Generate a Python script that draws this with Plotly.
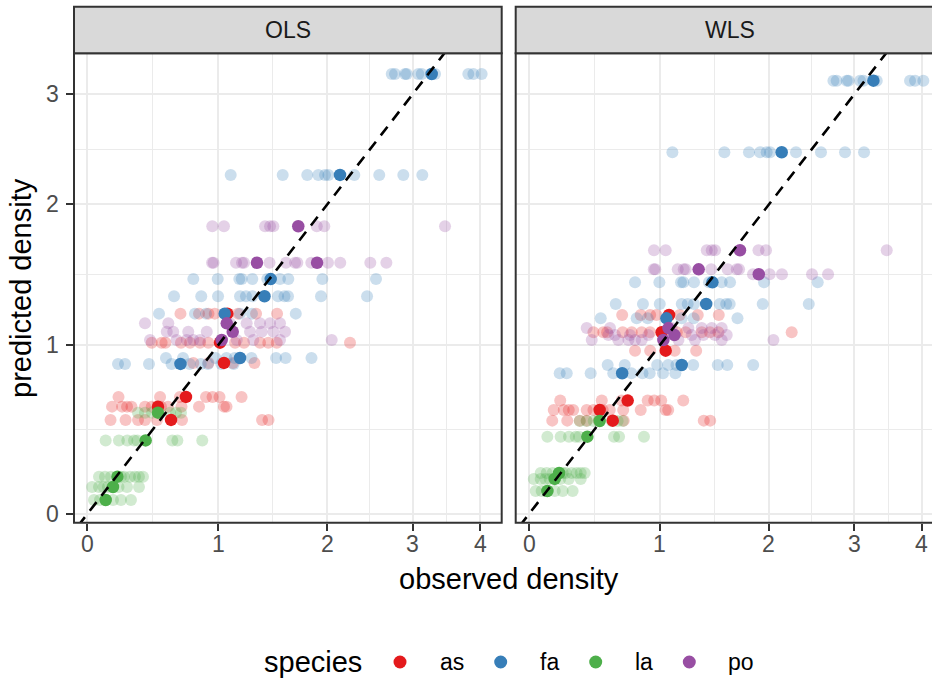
import numpy as np
import plotly.graph_objects as go

W, H = 932, 681

# ---------------- data ----------------
species = ["as", "fa", "la", "po"]
species_colors = {"as": "#E41A1C", "fa": "#377EB8", "la": "#4DAF4A", "po": "#984EA3"}

obs_as1 = [0.698, 0.844, 0.920, 0.971, 1.165, 1.321, 1.510]
obs_as2 = [0.478, 0.553, 0.582, 0.702, 0.773, 0.852, 0.919, 1.140, 1.216, 1.356, 1.430, 1.507, 2.244]
obs_as3 = [0.799, 0.920, 1.122, 1.307]
obs_as4 = [0.230, 0.541, 0.694, 0.900, 0.953, 1.010, 1.195]
obs_as5 = [0.182, 0.256, 0.293, 0.326, 0.427, 0.478, 0.548, 0.602, 0.706, 0.844, 1.047, 1.068]
obs_as6 = [0.171, 0.282, 0.375, 0.427, 0.518, 0.710, 1.374, 1.432]
obs_fa1 = [2.733, 2.774, 2.902, 2.924, 3.078, 3.124, 3.309, 3.808, 3.888, 4.023]
obs_fa2 = [1.103, 1.562, 1.798, 1.909, 1.977, 2.012, 2.292, 2.581, 2.880, 3.132]
obs_fa3 = [0.799, 0.995, 1.176, 1.196, 1.288, 1.421, 1.537, 1.615, 1.950, 2.542]
obs_fa4 = [0.648, 0.862, 0.998, 1.182, 1.233, 1.288, 1.519, 1.579, 1.612, 1.936, 2.437]
obs_fa5 = [0.533, 0.812, 0.900, 1.182, 1.285, 1.686]
obs_fa6 = [0.586, 0.718, 0.977, 1.068, 1.137, 1.281, 1.501, 1.589, 1.840]
obs_fa7 = [0.226, 0.278, 0.457, 0.629, 0.770, 0.858, 0.916, 1.025, 1.128]
obs_la1 = [0.135, 0.233, 0.295, 0.345, 0.370, 0.635, 0.674, 0.870]
obs_la2 = [0.375, 0.427, 0.480, 0.617, 0.663, 0.702]
obs_la3 = [0.086, 0.130, 0.174, 0.248, 0.271, 0.315, 0.352, 0.382, 0.412]
obs_la4 = [0.035, 0.086, 0.120, 0.152, 0.230, 0.293, 0.382]
obs_la5 = [0.049, 0.093, 0.137, 0.189, 0.248, 0.322]
obs_po1 = [0.951, 1.047, 1.401, 1.446, 1.476, 1.893, 1.970, 3.453]
obs_po2 = [0.949, 0.961, 1.148, 1.199, 1.216, 1.441, 1.593, 1.679, 1.701]
obs_po3 = [1.838, 2.008, 2.138, 2.475, 2.667]
obs_po4 = [0.427, 0.604, 1.097, 1.239, 1.356, 1.446, 1.537]
obs_po5 = [0.592, 0.642, 0.759, 0.906, 1.268, 1.371, 1.476, 1.584]
obs_po6 = [0.465, 0.668, 0.747, 0.799, 0.852, 1.154, 1.297, 1.537, 2.047]

group_names   = ["as1", "as2", "as3", "as4", "as5", "as6",
                 "fa1", "fa2", "fa3", "fa4", "fa5", "fa6", "fa7",
                 "la1", "la2", "la3", "la4", "la5",
                 "po1", "po2", "po3", "po4", "po5", "po6"]
group_species = ["as"] * 6 + ["fa"] * 7 + ["la"] * 5 + ["po"] * 6
group_obs = [obs_as1, obs_as2, obs_as3, obs_as4, obs_as5, obs_as6,
             obs_fa1, obs_fa2, obs_fa3, obs_fa4, obs_fa5, obs_fa6, obs_fa7,
             obs_la1, obs_la2, obs_la3, obs_la4, obs_la5,
             obs_po1, obs_po2, obs_po3, obs_po4, obs_po5, obs_po6]
group_mean_obs = [1.075, 1.014, 1.047, 0.741, 0.525, 0.625,
                  3.262, 2.135, 1.452, 1.396, 1.053, 1.182, 0.698,
                  0.432, 0.525, 0.222, 0.189, 0.135,
                  1.710, 1.329, 1.896, 1.070, 1.120, 1.028]
pred_ols = [1.204, 1.015, 0.887, 0.679, 0.621, 0.542,
            3.215, 2.245, 1.440, 1.321, 1.204, 0.918, 0.881,
            0.422, 0.585, 0.213, 0.154, 0.080,
            1.828, 1.556, 1.556, 1.140, 1.085, 1.032]
pred_wls = [1.195, 1.082, 0.964, 0.657, 0.601, 0.538,
            3.143, 2.444, 1.417, 1.269, 1.173, 0.874, 0.823,
            0.444, 0.536, 0.234, 0.200, 0.131,
            1.647, 1.509, 1.474, 1.109, 1.064, 1.032]

panels = ["OLS", "WLS"]
tick_values = [0, 1, 2, 3, 4]
tick_labels = ["0", "1", "2", "3", "4"]
y_tick_values = [0, 1, 2, 3]
y_tick_labels = ["0", "1", "2", "3"]
x_title = "observed density"
y_title = "predicted density"
legend_title = "species"


# pseudo-log transform (ggplot2 pseudo_log_trans, sigma = 1)
def tr(v):
    return np.arcsinh(np.asarray(v, dtype=float) / 2.0)


FONT = "Liberation Sans, Arial, Helvetica, sans-serif"
GRID = "#EBEBEB"
DARK = "#333333"
TICKTXT = "#4D4D4D"

fig = go.Figure()

axis_pairs = [("x", "y", pred_ols), ("x2", "y2", pred_wls)]

# faded observations
for xa, ya, pred in axis_pairs:
    for sp in species:
        xs, ys = [], []
        for sp_g, obs, p in zip(group_species, group_obs, pred):
            if sp_g == sp:
                xs += list(obs)
                ys += [p] * len(obs)
        fig.add_trace(go.Scatter(
            x=tr(xs), y=tr(ys), mode="markers", xaxis=xa, yaxis=ya,
            marker=dict(size=12, color=species_colors[sp], opacity=0.26, line=dict(width=0)),
            showlegend=False, hoverinfo="skip"))

# group means (solid)
for xa, ya, pred in axis_pairs:
    for sp in species:
        xs = [m for sp_g, m in zip(group_species, group_mean_obs) if sp_g == sp]
        ys = [p for sp_g, p in zip(group_species, pred) if sp_g == sp]
        fig.add_trace(go.Scatter(
            x=tr(xs), y=tr(ys), mode="markers", xaxis=xa, yaxis=ya,
            marker=dict(size=12.5, color=species_colors[sp], opacity=1, line=dict(width=0)),
            showlegend=False, hoverinfo="skip"))

# identity line
for xa, ya, _ in axis_pairs:
    ends = tr([-0.5, 6])
    fig.add_trace(go.Scatter(x=ends, y=ends, mode="lines", xaxis=xa, yaxis=ya,
                             line=dict(color="black", width=2.6, dash="11px,8px"),
                             showlegend=False, hoverinfo="skip"))

# ---------------- layout ----------------
L1, R1 = 74.0, 501.7
L2, R2 = 515.7, 943.4
TOP, BOT = 53.3, 522.7
STRIP_TOP = 6.7


def fx(p):
    return p / W


def fy(p):
    return 1 - p / H


tv = tr(tick_values)
ytv = tr(y_tick_values)
minor_vals = list((tv[:-1] + tv[1:]) / 2)

scale_x = 272.2
x0_left = 87.3
xr_lo = (L1 - x0_left) / scale_x
xr_hi1 = (R1 - x0_left) / scale_x
xr_hi2 = (W - (L2 + (x0_left - L1))) / scale_x
scale_y = 351.2
yr_lo = (514.0 - BOT) / scale_y
yr_hi = (514.0 - TOP) / scale_y

common_x = dict(tickmode="array", tickvals=list(tv), showticklabels=False,
                showgrid=True, gridcolor=GRID, gridwidth=2,
                minor=dict(tickmode="array", tickvals=minor_vals, showgrid=True,
                           gridcolor=GRID, gridwidth=1.1, ticks=""),
                ticks="outside", ticklen=7, tickwidth=2, tickcolor=DARK,
                zeroline=False, showline=False, fixedrange=True)
common_y = dict(tickmode="array", tickvals=list(ytv), showticklabels=False,
                showgrid=True, gridcolor=GRID, gridwidth=2,
                minor=dict(tickmode="array", tickvals=minor_vals[:3], showgrid=True,
                           gridcolor=GRID, gridwidth=1.1, ticks=""),
                zeroline=False, showline=False, fixedrange=True,
                domain=[fy(BOT), fy(TOP)], range=[yr_lo, yr_hi])

fig.update_layout(
    width=W, height=H, margin=dict(l=0, r=0, t=0, b=0),
    paper_bgcolor="white", plot_bgcolor="white", showlegend=False,
    xaxis=dict(domain=[fx(L1), fx(R1)], range=[xr_lo, xr_hi1], anchor="y", **common_x),
    xaxis2=dict(domain=[fx(L2), 1.0], range=[xr_lo, xr_hi2], anchor="y2", **common_x),
    yaxis=dict(anchor="x", ticks="outside", ticklen=7, tickwidth=2, tickcolor=DARK, **common_y),
    yaxis2=dict(anchor="x2", matches="y", ticks="", **common_y),
)

shapes = []
annotations = []
for (l, r), name in zip([(L1, R1), (L2, R2)], panels):
    shapes.append(dict(type="rect", xref="paper", yref="paper", x0=fx(l), x1=fx(r),
                       y0=fy(BOT), y1=fy(TOP), line=dict(color=DARK, width=2),
                       fillcolor="rgba(0,0,0,0)", layer="above"))
    shapes.append(dict(type="rect", xref="paper", yref="paper", x0=fx(l), x1=fx(r),
                       y0=fy(TOP), y1=fy(STRIP_TOP), line=dict(color=DARK, width=2),
                       fillcolor="#D9D9D9", layer="above"))
    annotations.append(dict(text=name, xref="paper", yref="paper", x=fx((l + r) / 2),
                            y=fy((TOP + STRIP_TOP) / 2), xanchor="center", yanchor="middle",
                            showarrow=False, font=dict(family=FONT, size=23, color="#1A1A1A")))

# tick labels
for xa in ["x", "x2"]:
    for v, lab in zip(tv, tick_labels):
        annotations.append(dict(text=lab, xref=xa, yref="paper", x=v, y=fy(544),
                                xanchor="center", yanchor="middle", showarrow=False,
                                font=dict(family=FONT, size=23, color=TICKTXT)))
for v, lab in zip(ytv, y_tick_labels):
    annotations.append(dict(text=lab, xref="paper", yref="y", x=fx(61), y=v,
                            xanchor="right", yanchor="middle", showarrow=False,
                            font=dict(family=FONT, size=23, color=TICKTXT)))

annotations.append(dict(text=x_title, xref="paper", yref="paper", x=fx((L1 + R2) / 2), y=fy(579),
                        xanchor="center", yanchor="middle", showarrow=False,
                        font=dict(family=FONT, size=29, color="black")))
annotations.append(dict(text=y_title, xref="paper", yref="paper", x=fx(21), y=fy((TOP + BOT) / 2),
                        xanchor="center", yanchor="middle", showarrow=False, textangle=-90,
                        font=dict(family=FONT, size=29, color="black")))

# legend (manual)
LEG_Y = 662
annotations.append(dict(text=legend_title, xref="paper", yref="paper", x=fx(262), y=fy(LEG_Y),
                        xanchor="left", yanchor="middle", showarrow=False,
                        font=dict(family=FONT, size=29, color="black")))
dot_x = [400, 500.7, 595.7, 689.3]
lab_x = [437.5, 538, 632.5, 726]
for sp, dx, lx in zip(species, dot_x, lab_x):
    rr = 6.5
    shapes.append(dict(type="circle", xref="paper", yref="paper", x0=fx(dx - rr), x1=fx(dx + rr),
                       y0=fy(LEG_Y + rr), y1=fy(LEG_Y - rr), fillcolor=species_colors[sp],
                       line=dict(width=0)))
    annotations.append(dict(text=sp, xref="paper", yref="paper", x=fx(lx), y=fy(LEG_Y),
                            xanchor="left", yanchor="middle", showarrow=False,
                            font=dict(family=FONT, size=23, color="black")))

fig.update_layout(shapes=shapes, annotations=annotations)
fig.write_html("out.html")
